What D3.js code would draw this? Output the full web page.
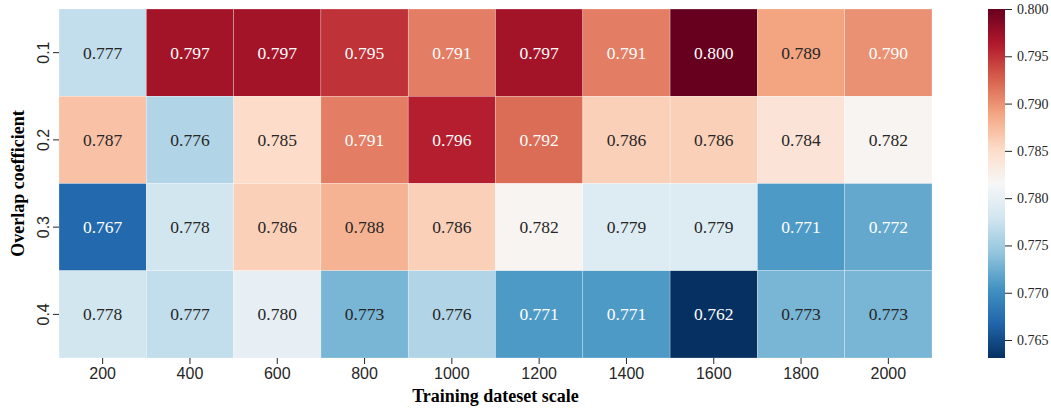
<!DOCTYPE html>
<html>
<head>
<meta charset="utf-8">
<script src="https://cdn.jsdelivr.net/npm/d3@7"></script>
<style>
  body { margin: 0; background: #fff; }
</style>
</head>
<body>
<div id="chart"></div>
<script>
// Data
const scales = [200, 400, 600, 800, 1000, 1200, 1400, 1600, 1800, 2000];
const overlaps = ["0.1", "0.2", "0.3", "0.4"];
const row01 = [0.777, 0.797, 0.797, 0.795, 0.791, 0.797, 0.791, 0.800, 0.789, 0.790];
const row02 = [0.787, 0.776, 0.785, 0.791, 0.796, 0.792, 0.786, 0.786, 0.784, 0.782];
const row03 = [0.767, 0.778, 0.786, 0.788, 0.786, 0.782, 0.779, 0.779, 0.771, 0.772];
const row04 = [0.778, 0.777, 0.780, 0.773, 0.776, 0.771, 0.771, 0.762, 0.773, 0.773];
const cbTicks = [0.765, 0.770, 0.775, 0.780, 0.785, 0.790, 0.795, 0.800];

const rows = [row01, row02, row03, row04];
const cells = [];
rows.forEach((r, i) =>
  r.forEach((v, j) => cells.push({ overlap: overlaps[i], scale: scales[j], value: v }))
);

// matplotlib RdBu_r
const rdbu = ["#053061", "#2166ac", "#4393c3", "#92c5de", "#d1e5f0", "#f7f7f7",
              "#fddbc7", "#f4a582", "#d6604d", "#b2182b", "#67001f"];
const vmin = 0.7631, vmax = 0.800;

const dimensions = {
  width: 1051,
  height: 411,
  left: 59,
  top: 9,
  mapWidth: 873,
  mapHeight: 349,
  cbLeft: 988,
  cbWidth: 17,
};

const svg = d3.select("#chart").append("svg")
  .attr("width", dimensions.width)
  .attr("height", dimensions.height);

const xScale = d3.scaleBand().domain(scales)
  .range([dimensions.left, dimensions.left + dimensions.mapWidth]);
const yScale = d3.scaleBand().domain(overlaps)
  .range([dimensions.top, dimensions.top + dimensions.mapHeight]);

const colorScale = d3.scaleLinear()
  .domain(d3.range(rdbu.length).map((i) => vmin + (vmax - vmin) * i / (rdbu.length - 1)))
  .range(rdbu)
  .interpolate(d3.interpolateRgb)
  .clamp(true);

// seaborn's text colour rule
function luminance(c) {
  const rgb = d3.rgb(c);
  const ch = [rgb.r, rgb.g, rgb.b].map((x) => {
    x /= 255;
    return x <= 0.03928 ? x / 12.92 : Math.pow((x + 0.055) / 1.055, 2.4);
  });
  return 0.2126 * ch[0] + 0.7152 * ch[1] + 0.0722 * ch[2];
}

// Cells
svg.append("g").selectAll("rect").data(cells).join("rect")
  .attr("x", (d) => xScale(d.scale))
  .attr("y", (d) => yScale(d.overlap))
  .attr("width", xScale.bandwidth())
  .attr("height", yScale.bandwidth())
  .attr("fill", (d) => colorScale(d.value))
  .attr("stroke", "#ffffff")
  .attr("stroke-opacity", 0.5)
  .attr("stroke-width", 0.5);

svg.append("g").selectAll("text").data(cells).join("text")
  .attr("x", (d) => xScale(d.scale) + xScale.bandwidth() / 2)
  .attr("y", (d) => yScale(d.overlap) + yScale.bandwidth() / 2)
  .attr("text-anchor", "middle")
  .attr("dominant-baseline", "central")
  .attr("font-family", "Liberation Serif, Times New Roman, serif")
  .attr("font-size", 17.5)
  .attr("fill", (d) => (luminance(colorScale(d.value)) > 0.408 ? "#262626" : "#ffffff"))
  .text((d) => d3.format(".3f")(d.value));

// Axes
const xAxis = svg.append("g")
  .attr("transform", `translate(0,${dimensions.top + dimensions.mapHeight})`)
  .call(d3.axisBottom(xScale).tickSize(6).tickPadding(4));
xAxis.select(".domain").remove();
xAxis.selectAll("line").attr("stroke", "#262626").attr("stroke-width", 1);
xAxis.selectAll("text")
  .attr("font-family", "Liberation Sans, Arial, sans-serif")
  .attr("font-size", 16)
  .attr("fill", "#262626");

const yAxis = svg.append("g")
  .attr("transform", `translate(${dimensions.left},0)`)
  .call(d3.axisLeft(yScale).tickSize(6).tickPadding(4));
yAxis.select(".domain").remove();
yAxis.selectAll("line").attr("stroke", "#262626").attr("stroke-width", 1);
yAxis.selectAll("text")
  .attr("font-family", "Liberation Sans, Arial, sans-serif")
  .attr("font-size", 16)
  .attr("fill", "#262626")
  .attr("text-anchor", "middle")
  .attr("dy", null)
  .attr("x", null)
  .attr("transform", "translate(-16,0) rotate(-90)")
  .attr("y", 0)
  .attr("dominant-baseline", "central");

svg.append("text")
  .attr("x", dimensions.left + dimensions.mapWidth / 2)
  .attr("y", 402)
  .attr("text-anchor", "middle")
  .attr("font-family", "Liberation Serif, Times New Roman, serif")
  .attr("font-weight", "bold")
  .attr("font-size", 18)
  .attr("fill", "#000")
  .text("Training dateset scale");

svg.append("text")
  .attr("transform", `translate(24,${dimensions.top + dimensions.mapHeight / 2}) rotate(-90)`)
  .attr("text-anchor", "middle")
  .attr("font-family", "Liberation Serif, Times New Roman, serif")
  .attr("font-weight", "bold")
  .attr("font-size", 18)
  .attr("fill", "#000")
  .text("Overlap coefficient");

// Colorbar
const cbScale = d3.scaleLinear().domain([vmin, vmax])
  .range([dimensions.top + dimensions.mapHeight, dimensions.top]);

const defs = svg.append("defs");
const grad = defs.append("linearGradient")
  .attr("id", "cbGrad").attr("x1", 0).attr("y1", 1).attr("x2", 0).attr("y2", 0);
grad.selectAll("stop").data(d3.range(0, 1.0001, 0.02)).join("stop")
  .attr("offset", (d) => d)
  .attr("stop-color", (d) => colorScale(vmin + (vmax - vmin) * d));

svg.append("rect")
  .attr("x", dimensions.cbLeft)
  .attr("y", dimensions.top)
  .attr("width", dimensions.cbWidth)
  .attr("height", dimensions.mapHeight)
  .attr("fill", "url(#cbGrad)");

const cbAxis = svg.append("g")
  .attr("transform", `translate(${dimensions.cbLeft + dimensions.cbWidth},0)`)
  .call(d3.axisRight(cbScale).tickValues(cbTicks).tickFormat(d3.format(".3f")).tickSize(7).tickPadding(5));
cbAxis.select(".domain").remove();
cbAxis.selectAll("line").attr("stroke", "#262626").attr("stroke-width", 1);
cbAxis.selectAll("text")
  .attr("font-family", "Liberation Serif, Times New Roman, serif")
  .attr("font-size", 14)
  .attr("fill", "#262626");
</script>
</body>
</html>
